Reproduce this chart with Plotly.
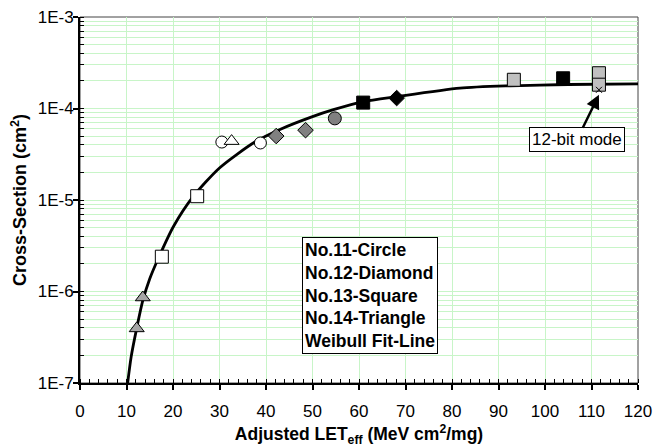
import plotly.graph_objects as go

# ---------------- data ----------------
# No.11 - Circle
circ_open_let = [30.5, 38.8]
circ_open_xs = [4.3e-5, 4.2e-5]
circ_gray_let = [54.8]
circ_gray_xs = [7.8e-5]

# No.12 - Diamond
diam_gray_let = [42.2, 48.5]
diam_gray_xs = [5.0e-5, 5.8e-5]
diam_black_let = [68.1]
diam_black_xs = [1.30e-4]

# No.13 - Square
sq_open_let = [17.6, 25.2]
sq_open_xs = [2.4e-6, 1.1e-5]
sq_black_let = [60.9, 103.9]
sq_black_xs = [1.16e-4, 2.14e-4]
sq_gray_let = [93.3, 111.6, 111.6]
sq_gray_xs = [2.06e-4, 2.43e-4, 1.82e-4]

# No.14 - Triangle
tri_gray_let = [12.2, 13.5]
tri_gray_xs = [3.95e-7, 8.6e-7]
tri_open_let = [32.6]
tri_open_xs = [4.4e-5]

# 12-bit mode point
bit12_let = [111.6]
bit12_xs = [1.6e-4]

# Weibull fit line
fit_let = [10.25, 11.0, 12.2, 13.5, 15.0, 17.0, 20.1, 24.4, 30.0, 37.6, 43.0,
           50.0, 54.5, 60.9, 68.1, 81.7, 92.5, 105.0, 120.0]
fit_xs = [1.0e-7, 1.93e-7, 3.98e-7, 7.94e-7, 1.38e-6, 2.40e-6, 5.13e-6, 1.10e-5,
          2.24e-5, 4.30e-5, 5.90e-5, 8.15e-5, 9.70e-5, 1.19e-4, 1.35e-4, 1.67e-4,
          1.77e-4, 1.83e-4, 1.86e-4]

y_tickvals = [1e-7, 1e-6, 1e-5, 1e-4, 1e-3]
y_ticktext = ["1E-7", "1E-6", "1E-5", "1E-4", "1E-3"]
x_tickvals = [0, 10, 20, 30, 40, 50, 60, 70, 80, 90, 100, 110, 120]

legend_lines = ["No.11-Circle", "No.12-Diamond", "No.13-Square",
                "No.14-Triangle", "Weibull Fit-Line"]

# ---------------- figure ----------------
FONT = "Liberation Sans, Arial, sans-serif"
GRID = "#c8f5c8"

fig = go.Figure()

fig.add_trace(go.Scatter(x=fit_let, y=fit_xs, mode="lines",
                         line=dict(color="black", width=2.8, shape="spline", smoothing=0.7),
                         hoverinfo="skip"))


def pts(x, y, symbol, fill, size=12):
    fig.add_trace(go.Scatter(x=x, y=y, mode="markers",
                             marker=dict(symbol=symbol, size=size, color=fill,
                                         line=dict(color="black", width=1))))


pts(sq_gray_let, sq_gray_xs, "square", "#c0c0c0", 13)
pts(sq_open_let, sq_open_xs, "square", "white", 13)
pts(sq_black_let, sq_black_xs, "square", "black", 13)
pts(circ_open_let, circ_open_xs, "circle", "white", 12)
pts(circ_gray_let, circ_gray_xs, "circle", "#808080", 13)
pts(diam_gray_let, diam_gray_xs, "diamond", "#808080", 12)
pts(diam_black_let, diam_black_xs, "diamond", "black", 12)
pts(tri_gray_let, tri_gray_xs, "triangle-up", "#a6a6a6", 13)
pts(tri_open_let, tri_open_xs, "triangle-up", "white", 13)
fig.add_trace(go.Scatter(x=bit12_let, y=bit12_xs, mode="markers",
                         marker=dict(symbol="x-thin", size=6,
                                     line=dict(color="black", width=1))))

# legend box
fig.add_annotation(x=47.7, y=-5.40, xref="x", yref="y",
                   xanchor="left", yanchor="top", align="left",
                   text="<br>".join("<b>%s</b>" % s for s in legend_lines),
                   showarrow=False, font=dict(family=FONT, size=17.5, color="black"),
                   bordercolor="black", borderwidth=1, borderpad=2, bgcolor="white")

# 12-bit mode label with arrow
fig.add_annotation(x=bit12_let[0], y=-3.85, xref="x", yref="y",
                   text="12-bit mode", showarrow=True,
                   ax=-22, ay=45, arrowhead=2, arrowsize=1.1, arrowwidth=2.5,
                   arrowcolor="black", standoff=0,
                   font=dict(family=FONT, size=17, color="black"),
                   bordercolor="black", borderwidth=1, borderpad=2, bgcolor="white")

# plot frame
fig.add_shape(type="rect", xref="paper", yref="paper", x0=0, x1=1, y0=0, y1=1,
              line=dict(color="#444444", width=1), layer="below")

fig.update_xaxes(range=[0, 120], tickvals=x_tickvals, automargin=False,
                 showgrid=True, gridcolor=GRID, gridwidth=1,
                 showline=True, linecolor="black", linewidth=2,
                 ticks="outside", ticklen=5, tickwidth=1.5, tickcolor="black",
                 ticklabelstandoff=7,
                 minor=dict(dtick=2, ticks="inside", ticklen=4, tickcolor="black",
                            tickwidth=1, showgrid=False),
                 tickfont=dict(family=FONT, size=17, color="black"),
                 title=dict(text="<b>Adjusted LET<sub>eff</sub> (MeV cm<sup>2</sup>/mg)</b>",
                            font=dict(family=FONT, size=17.5, color="black"), standoff=9),
                 zeroline=False)

fig.update_yaxes(type="log", range=[-7, -3], tickvals=y_tickvals, ticktext=y_ticktext,
                 automargin=False,
                 showgrid=True, gridcolor=GRID, gridwidth=1,
                 showline=True, linecolor="black", linewidth=2,
                 ticks="outside", ticklen=5, tickwidth=1.5, tickcolor="black",
                 ticklabelstandoff=-4,
                 minor=dict(dtick="D1", ticks="inside", ticklen=4, tickcolor="black",
                            tickwidth=1, showgrid=True, gridcolor=GRID, gridwidth=1),
                 tickfont=dict(family=FONT, size=17, color="black"),
                 title=dict(text="<b>Cross-Section (cm<sup>2</sup>)</b>",
                            font=dict(family=FONT, size=18, color="black"), standoff=6),
                 zeroline=False)

fig.update_layout(width=654, height=447, showlegend=False,
                  margin=dict(l=80, r=16, t=17, b=64),
                  paper_bgcolor="white", plot_bgcolor="white",
                  font=dict(family=FONT, color="black"))

fig.write_html("out.html")
